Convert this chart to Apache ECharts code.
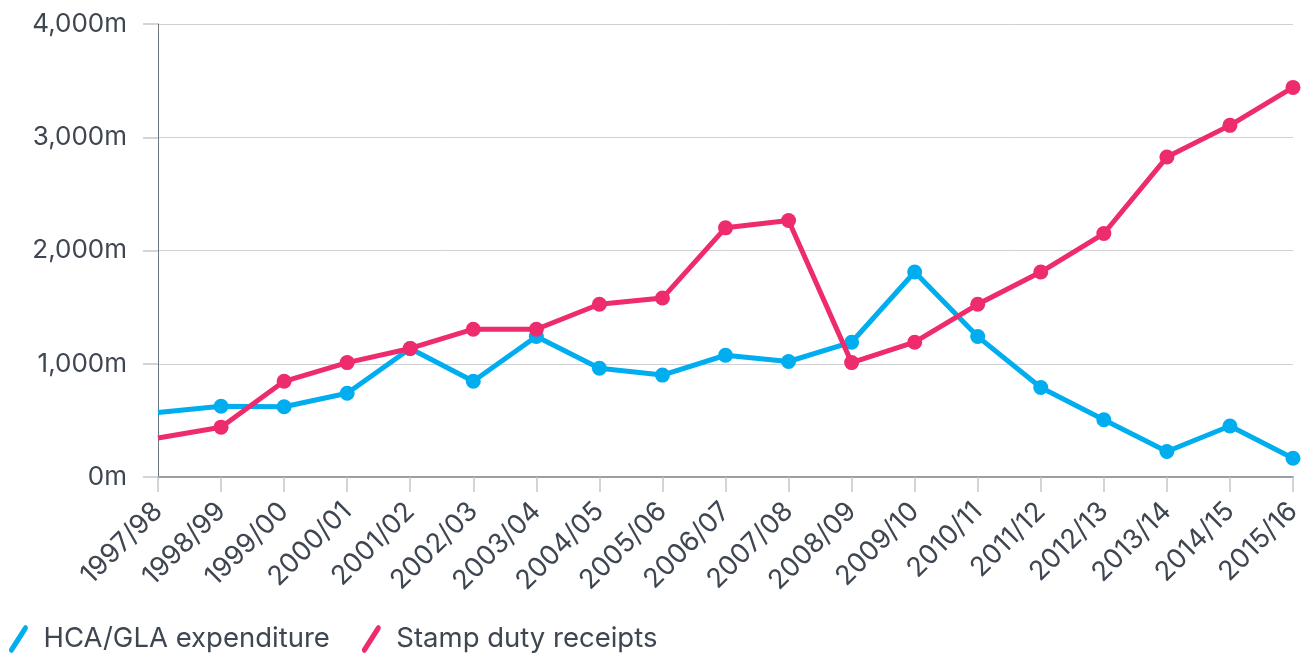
<!DOCTYPE html>
<html>
<head>
<meta charset="utf-8">
<title>HCA/GLA expenditure vs stamp duty receipts</title>
<script src="https://cdn.jsdelivr.net/npm/echarts@6/dist/echarts.min.js"></script>
<style>
  html, body { margin: 0; padding: 0; background: #fff; }
  #chart { width: 1306px; height: 655px; }
</style>
</head>
<body>
<div id="chart"></div>
<script>
// categories (financial years)
var years = ['1997/98', '1998/99', '1999/00', '2000/01', '2001/02', '2002/03', '2003/04',
  '2004/05', '2005/06', '2006/07', '2007/08', '2008/09', '2009/10', '2010/11',
  '2011/12', '2012/13', '2013/14', '2014/15', '2015/16'];

// £m
var hcaGla = [570, 625, 620, 740, 1135, 845, 1240, 960, 900, 1075, 1020, 1190, 1810, 1240,
  790, 505, 225, 450, 165];
var stampDuty = [345, 440, 845, 1010, 1135, 1305, 1305, 1525, 1580, 2200, 2265, 1010, 1190,
  1525, 1810, 2150, 2825, 3105, 3440];

var yTicks = { min: 0, max: 4000, step: 1000 };

var textColor = '#3d4651';
var blue = '#00aeef';
var pink = '#ee2b6c';
var font = 'Inter, Roboto, sans-serif';

function noFirstSymbol(arr) {
  return arr.map(function (v, i) {
    return i === 0 ? { value: v, symbol: 'none' } : v;
  });
}

var slash = 'path://M0,24 L14,2 Q16,-1 18,1 Q20,3 18,6 L4,28 Q2,31 0,29 Q-2,27 0,24 Z';

var chart = echarts.init(document.getElementById('chart'));
chart.setOption({
  backgroundColor: '#fff',
  animation: false,
  textStyle: { fontFamily: font },
  grid: { left: 158, right: 13, top: 24, bottom: 178, containLabel: false },
  legend: {
    left: 4,
    bottom: -3,
    itemWidth: 24,
    itemHeight: 28,
    itemGap: 32,
    textStyle: { fontSize: 27.5, color: textColor, fontFamily: font, padding: [0, 0, 0, 8] },
    data: [
      { name: 'HCA/GLA expenditure', icon: slash },
      { name: 'Stamp duty receipts', icon: slash }
    ]
  },
  xAxis: {
    type: 'category',
    data: years,
    boundaryGap: false,
    axisLine: { lineStyle: { color: '#9a9ea3', width: 2 } },
    axisTick: { show: true, length: 15, lineStyle: { color: '#c4c7ca', width: 1.5 } },
    axisLabel: {
      interval: 0,
      rotate: 45,
      margin: 30,
      fontSize: 27,
      color: textColor,
      fontFamily: font
    },
    splitLine: { show: false }
  },
  yAxis: {
    type: 'value',
    min: yTicks.min,
    max: yTicks.max,
    interval: yTicks.step,
    axisLine: { show: true, lineStyle: { color: '#6d757d', width: 1 } },
    axisTick: { show: true, length: 15, lineStyle: { color: '#c4c7ca', width: 1.5 } },
    axisLabel: {
      margin: 31,
      fontSize: 26,
      color: textColor,
      fontFamily: font,
      formatter: function (v) {
        return v.toLocaleString('en-GB') + 'm';
      }
    },
    splitLine: { lineStyle: { color: '#cfd1d4', width: 1 } }
  },
  series: [
    {
      name: 'HCA/GLA expenditure',
      type: 'line',
      data: noFirstSymbol(hcaGla),
      symbol: 'circle',
      symbolSize: 15,
      showAllSymbol: true,
      itemStyle: { color: blue },
      lineStyle: { color: blue, width: 5 },
      z: 3
    },
    {
      name: 'Stamp duty receipts',
      type: 'line',
      data: noFirstSymbol(stampDuty),
      symbol: 'circle',
      symbolSize: 15,
      showAllSymbol: true,
      itemStyle: { color: pink },
      lineStyle: { color: pink, width: 5 },
      z: 4
    }
  ]
});
</script>
</body>
</html>
